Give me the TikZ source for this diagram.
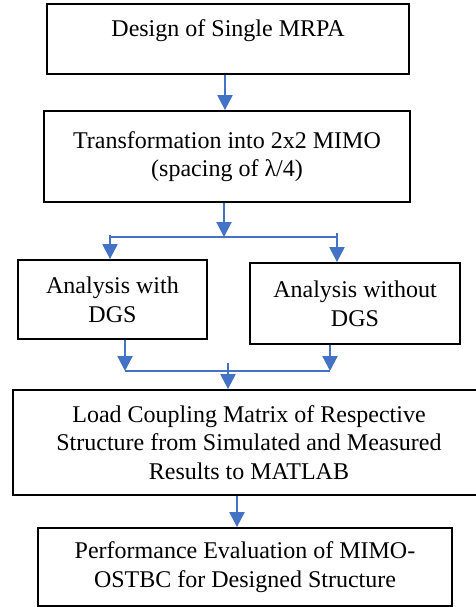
\documentclass[tikz,border=0pt]{standalone}
\usepackage{fontspec}
\setmainfont{Liberation Serif}
\usepackage{tikz}
\usetikzlibrary{arrows.meta}
\definecolor{flowblue}{HTML}{4472C4}
\tikzstyle{block} = [draw=black, line width=0.9pt, align=center, inner sep=2pt, font=\fontsize{12}{14.3}\selectfont]
\tikzstyle{flow} = [draw=flowblue, line width=1.1pt, -{Triangle[width=7.5pt,length=7.5pt]}]
\tikzstyle{link} = [draw=flowblue, line width=0.7pt]
\tikzstyle{junction} = [coordinate]

\begin{document}
\begin{tikzpicture}[x=0.5pt, y=-0.5pt]
    \useasboundingbox (0,0) rectangle (476,607);

    \node [block, name=design, minimum width=181pt, minimum height=35pt, text depth=10.6pt] at (228,39) {Design of Single MRPA};
    \node [block, name=transform, minimum width=183pt, minimum height=45.5pt] at (227,156.5) {Transformation into 2x2 MIMO\\(spacing of λ/4)};
    \node [block, name=withdgs, minimum width=94.5pt, minimum height=39.5pt] at (112.5,299.5) {Analysis with\\DGS};
    \node [block, name=withoutdgs, minimum width=105pt, minimum height=40.5pt] at (355,303.5) {Analysis without\\DGS};
    \node [block, name=load, minimum width=236pt, minimum height=52.5pt] at (249,442.5) {Load Coupling Matrix of Respective\\Structure from Simulated and Measured\\Results to MATLAB};
    \node [block, name=evaluation, minimum width=207pt, minimum height=39pt] at (245,567) {Performance Evaluation of MIMO-\\OSTBC for Designed Structure};

    \node [junction, name=split] at (224,237) {};
    \node [junction, name=splitL] at (110,237) {};
    \node [junction, name=splitR] at (337,237) {};
    \node [junction, name=join] at (228,371) {};
    \node [junction, name=joinL] at (125,371) {};
    \node [junction, name=joinR] at (330,371) {};

    \draw [flow] ([xshift=-1.5pt]design.south) -- ([xshift=-1.5pt]design.south |- transform.north);
    \draw [flow] (transform.south -| split) -- (split);
    \draw [link] (splitL) -- (splitR);
    \draw [flow] ([yshift=1pt]splitL) -- (splitL |- withdgs.north);
    \draw [flow] ([yshift=2pt]splitR) -- (splitR |- withoutdgs.north);
    \draw [flow] (withdgs.south -| joinL) -- (joinL);
    \draw [flow] (withoutdgs.south -| joinR) -- (joinR);
    \draw [link] (joinL) -- (joinR);
    \draw [flow] ([yshift=4pt]join) -- (join |- load.north);
    \draw [flow] ([xshift=-6pt]load.south) -- ([xshift=-6pt]load.south |- evaluation.north);
\end{tikzpicture}
\end{document}
